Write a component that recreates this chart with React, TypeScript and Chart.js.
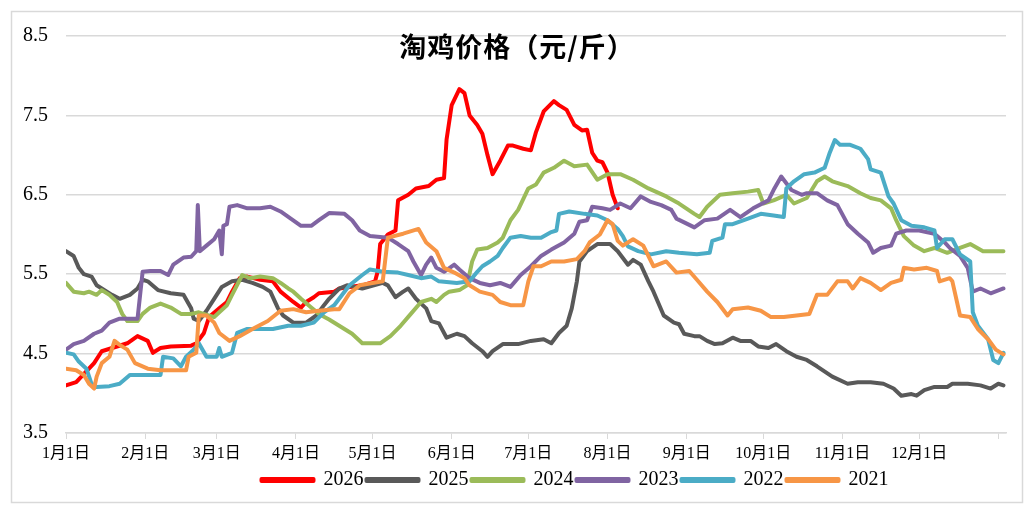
import { useEffect, useRef } from "react";
import { Chart, registerables } from "chart.js";

Chart.register(...registerables);

// x = day of year (0 = 1月1日)
const monthDays = [0, 31, 59, 90, 120, 151, 181, 212, 243, 273, 304, 334, 365];
const monthLabels = ["1月1日", "2月1日", "3月1日", "4月1日", "5月1日", "6月1日", "7月1日", "8月1日", "9月1日", "10月1日", "11月1日", "12月1日", ""];
const yTicks = [3.5, 4.5, 5.5, 6.5, 7.5, 8.5];

const years = ["2026", "2025", "2024", "2023", "2022", "2021"];
const colors = ["#ff0000", "#595959", "#9bbb59", "#8064a2", "#4bacc6", "#f79646"];

// [day, price]
const s2026 = [
  [0, 4.1], [4, 4.14], [11, 4.38], [14, 4.53], [24, 4.63], [28, 4.72], [32, 4.66], [34, 4.51], [37, 4.57],
  [41, 4.59], [49, 4.6], [51, 4.63], [54, 4.76], [56, 4.96], [60, 5.07], [63, 5.15], [65, 5.28], [68, 5.45],
  [71, 5.47], [76, 5.43], [81, 5.41], [84, 5.28], [89, 5.15], [92, 5.08], [94, 5.15], [97, 5.21], [99, 5.26],
  [105, 5.28], [107, 5.32], [116, 5.36], [121, 5.41], [122, 5.53], [123, 5.88], [126, 6.0], [129, 6.05],
  [130, 6.43], [134, 6.5], [137, 6.58], [142, 6.61], [145, 6.69], [148, 6.71], [149, 7.2], [151, 7.63],
  [154, 7.83], [156, 7.78], [158, 7.5], [161, 7.38], [163, 7.27], [165, 7.0], [167, 6.76], [170, 6.93],
  [173, 7.12], [175, 7.12], [179, 7.08], [182, 7.06], [184, 7.29], [187, 7.55], [191, 7.68], [193, 7.63],
  [196, 7.57], [199, 7.38], [202, 7.31], [204, 7.32], [206, 7.03], [208, 6.93], [210, 6.91], [212, 6.78],
  [214, 6.5], [216, 6.33],
];

const s2025 = [
  [0, 5.79], [3, 5.73], [5, 5.58], [7, 5.5], [10, 5.47], [12, 5.36], [14, 5.32], [18, 5.24], [21, 5.19],
  [25, 5.24], [28, 5.32], [30, 5.43], [32, 5.41], [36, 5.3], [41, 5.26], [46, 5.24], [49, 5.07], [50, 4.94],
  [52, 4.91], [55, 5.04], [58, 5.19], [61, 5.34], [65, 5.41], [69, 5.43], [73, 5.39], [77, 5.34], [80, 5.28],
  [83, 5.07], [85, 4.98], [89, 4.89], [94, 4.89], [98, 4.98], [101, 5.11], [103, 5.19], [107, 5.32],
  [110, 5.36], [116, 5.32], [124, 5.39], [126, 5.36], [129, 5.21], [132, 5.28], [134, 5.32], [137, 5.19],
  [141, 5.07], [143, 4.91], [146, 4.88], [149, 4.7], [153, 4.75], [156, 4.72], [159, 4.63], [163, 4.53],
  [165, 4.46], [167, 4.53], [171, 4.62], [177, 4.62], [182, 4.66], [187, 4.68], [190, 4.63], [193, 4.76],
  [196, 4.85], [198, 5.07], [200, 5.41], [201, 5.66], [204, 5.79], [208, 5.88], [213, 5.88], [216, 5.79],
  [220, 5.62], [222, 5.68], [225, 5.62], [228, 5.41], [230, 5.28], [234, 4.98], [238, 4.89], [240, 4.87],
  [242, 4.75], [246, 4.72], [248, 4.72], [251, 4.66], [254, 4.62], [257, 4.63], [261, 4.7], [264, 4.66],
  [268, 4.66], [271, 4.59], [275, 4.57], [278, 4.62], [282, 4.53], [286, 4.46], [290, 4.42], [294, 4.34],
  [300, 4.21], [306, 4.12], [310, 4.14], [315, 4.14], [320, 4.12], [324, 4.06], [327, 3.97], [331, 3.99],
  [333, 3.97], [336, 4.04], [340, 4.08], [345, 4.08], [347, 4.12], [353, 4.12], [358, 4.1], [362, 4.06],
  [365, 4.12], [367, 4.1],
];

const s2024 = [
  [0, 5.39], [3, 5.28], [7, 5.26], [9, 5.28], [12, 5.24], [14, 5.3], [17, 5.24], [20, 5.15], [22, 5.0],
  [24, 4.91], [28, 4.91], [30, 5.0], [33, 5.08], [37, 5.13], [41, 5.08], [45, 5.0], [49, 5.0], [52, 5.02],
  [58, 4.96], [60, 5.02], [63, 5.11], [65, 5.24], [69, 5.49], [72, 5.45], [76, 5.47], [81, 5.45], [84, 5.39],
  [87, 5.32], [89, 5.28], [92, 5.19], [96, 5.08], [99, 5.0], [103, 4.93], [109, 4.81], [112, 4.75],
  [116, 4.63], [123, 4.63], [127, 4.72], [131, 4.85], [135, 5.0], [139, 5.15], [143, 5.19], [145, 5.15],
  [148, 5.24], [150, 5.28], [154, 5.3], [157, 5.36], [159, 5.66], [161, 5.81], [165, 5.83], [169, 5.9],
  [171, 5.96], [174, 6.18], [177, 6.31], [181, 6.58], [184, 6.63], [187, 6.78], [191, 6.84], [195, 6.93],
  [199, 6.86], [204, 6.88], [208, 6.69], [212, 6.76], [217, 6.76], [222, 6.69], [228, 6.58], [235, 6.48],
  [240, 6.39], [246, 6.26], [248, 6.22], [251, 6.35], [256, 6.5], [261, 6.52], [267, 6.54], [271, 6.56],
  [273, 6.39], [277, 6.43], [282, 6.5], [285, 6.39], [290, 6.46], [294, 6.67], [297, 6.73], [300, 6.67],
  [306, 6.61], [311, 6.52], [315, 6.46], [319, 6.43], [323, 6.33], [325, 6.18], [328, 5.98], [332, 5.86],
  [336, 5.79], [340, 5.83], [345, 5.77], [350, 5.83], [354, 5.88], [359, 5.79], [367, 5.79],
];

const s2023 = [
  [0, 4.55], [3, 4.62], [7, 4.66], [11, 4.75], [14, 4.79], [17, 4.89], [21, 4.94], [28, 4.94], [30, 5.53],
  [33, 5.54], [37, 5.54], [40, 5.49], [42, 5.62], [46, 5.71], [49, 5.72], [51, 5.79], [51.6, 6.37],
  [52.4, 5.79], [55, 5.86], [58, 5.94], [60, 6.05], [61, 5.75], [61.6, 6.11], [63, 6.13], [64, 6.35],
  [67, 6.37], [71, 6.33], [76, 6.33], [80, 6.35], [84, 6.29], [88, 6.2], [92, 6.11], [96, 6.11], [99, 6.18],
  [103, 6.27], [109, 6.26], [112, 6.18], [115, 6.05], [119, 5.98], [126, 5.96], [130, 5.88], [134, 5.79],
  [136, 5.66], [139, 5.49], [141, 5.62], [143, 5.71], [145, 5.58], [148, 5.53], [152, 5.62], [154, 5.56],
  [158, 5.45], [162, 5.39], [166, 5.36], [170, 5.39], [174, 5.34], [178, 5.49], [182, 5.6], [186, 5.73],
  [190, 5.81], [195, 5.9], [199, 6.01], [201, 6.16], [204, 6.18], [206, 6.35], [210, 6.33], [213, 6.31],
  [217, 6.39], [221, 6.33], [225, 6.48], [229, 6.41], [233, 6.37], [237, 6.31], [239, 6.2], [246, 6.09],
  [250, 6.18], [255, 6.2], [260, 6.31], [264, 6.22], [269, 6.33], [275, 6.43], [277, 6.56], [280, 6.73],
  [284, 6.56], [288, 6.5], [290, 6.52], [294, 6.52], [298, 6.43], [302, 6.37], [306, 6.13], [310, 6.01],
  [314, 5.9], [316, 5.77], [319, 5.83], [323, 5.86], [325, 6.01], [329, 6.05], [334, 6.05], [340, 6.01],
  [344, 5.9], [346, 5.83], [350, 5.73], [353, 5.58], [355, 5.28], [358, 5.32], [362, 5.26], [367, 5.32],
];

const s2022 = [
  [0, 4.51], [3, 4.49], [5, 4.4], [8, 4.31], [10, 4.12], [12, 4.08], [17, 4.09], [21, 4.12], [25, 4.23],
  [30, 4.23], [37, 4.23], [38, 4.46], [42, 4.44], [45, 4.34], [47, 4.46], [50, 4.55], [52, 4.63], [55, 4.46],
  [59, 4.46], [60, 4.57], [61, 4.46], [65, 4.51], [67, 4.76], [71, 4.81], [76, 4.81], [81, 4.81], [87, 4.85],
  [92, 4.85], [97, 4.89], [101, 5.02], [105, 5.11], [110, 5.32], [111, 5.36], [116, 5.49], [119, 5.56],
  [124, 5.53], [130, 5.52], [134, 5.49], [139, 5.45], [143, 5.47], [146, 5.41], [153, 5.39], [158, 5.41],
  [161, 5.53], [163, 5.6], [166, 5.66], [169, 5.73], [171, 5.83], [174, 5.96], [178, 5.98], [182, 5.96],
  [186, 5.96], [190, 6.03], [192, 6.05], [193, 6.26], [197, 6.29], [203, 6.26], [208, 6.24], [212, 6.18],
  [216, 6.07], [218, 5.98], [220, 5.85], [224, 5.79], [229, 5.75], [235, 5.79], [240, 5.77], [247, 5.75],
  [252, 5.77], [253, 5.92], [257, 5.96], [258, 6.13], [261, 6.13], [267, 6.2], [272, 6.26], [277, 6.24],
  [281, 6.22], [282, 6.58], [285, 6.67], [289, 6.76], [293, 6.78], [297, 6.84], [299, 7.03], [301, 7.19],
  [303, 7.13], [307, 7.13], [311, 7.08], [314, 6.95], [315, 6.82], [319, 6.78], [322, 6.48], [324, 6.39],
  [327, 6.18], [331, 6.11], [336, 6.09], [340, 6.05], [341, 5.83], [344, 5.94], [347, 5.94], [350, 5.75],
  [354, 5.66], [355, 5.02], [357, 4.85], [361, 4.68], [363, 4.42], [365, 4.38], [367, 4.51],
];

const s2021 = [
  [0, 4.31], [4, 4.29], [7, 4.23], [9, 4.12], [11, 4.06], [12, 4.21], [14, 4.38], [17, 4.46], [19, 4.66],
  [21, 4.61], [24, 4.55], [27, 4.38], [32, 4.31], [37, 4.29], [42, 4.29], [47, 4.29], [48, 4.46], [51, 4.51],
  [52, 4.98], [55, 4.98], [58, 4.89], [60, 4.76], [64, 4.66], [68, 4.72], [73, 4.81], [79, 4.91], [84, 5.04],
  [89, 5.06], [94, 5.02], [99, 5.04], [105, 5.06], [107, 5.06], [111, 5.26], [115, 5.36], [120, 5.39],
  [124, 5.41], [126, 5.96], [132, 6.01], [138, 6.07], [141, 5.9], [145, 5.79], [148, 5.58], [152, 5.52],
  [156, 5.45], [158, 5.36], [162, 5.28], [167, 5.24], [170, 5.15], [174, 5.11], [179, 5.11], [181, 5.41],
  [183, 5.6], [186, 5.6], [190, 5.66], [195, 5.66], [200, 5.69], [203, 5.79], [205, 5.9], [209, 6.0],
  [212, 6.18], [214, 6.13], [216, 5.92], [218, 5.86], [222, 5.94], [226, 5.86], [230, 5.6], [235, 5.66],
  [239, 5.52], [244, 5.54], [247, 5.43], [251, 5.28], [255, 5.15], [259, 4.98], [261, 5.06], [267, 5.08],
  [272, 5.04], [276, 4.96], [281, 4.96], [286, 4.98], [291, 5.0], [294, 5.24], [298, 5.24], [302, 5.41],
  [306, 5.41], [308, 5.32], [311, 5.45], [315, 5.39], [319, 5.3], [323, 5.39], [327, 5.43], [328, 5.58],
  [332, 5.56], [337, 5.58], [341, 5.54], [342, 5.41], [346, 5.45], [347, 5.41], [350, 4.98], [354, 4.96],
  [357, 4.81], [361, 4.68], [364, 4.55], [367, 4.49],
];

const seriesData = [s2026, s2025, s2024, s2023, s2022, s2021];

const serif = '"Times New Roman", "Liberation Serif", "Noto Sans CJK SC", serif';

// white page, light frame and the title drawn inside the plot
const framePlugin = {
  id: "frame",
  beforeDraw(chart: Chart) {
    const { ctx } = chart;
    ctx.save();
    ctx.fillStyle = "#ffffff";
    ctx.fillRect(0, 0, chart.width, chart.height);
    ctx.strokeStyle = "#d9d9d9";
    ctx.lineWidth = 1.5;
    ctx.strokeRect(11.5, 11.5, 1011, 491);
    ctx.restore();
  },
  afterDraw(chart: Chart) {
    const { ctx } = chart;
    ctx.save();
    ctx.font = 'bold 27px "Noto Sans CJK SC", sans-serif';
    (ctx as any).letterSpacing = "1px";
    ctx.fillStyle = "#000000";
    ctx.textAlign = "center";
    ctx.textBaseline = "middle";
    ctx.fillText("淘鸡价格（元/斤）", 517, 47);
    ctx.restore();
  },
  afterLayout(chart: Chart) {
    // legend sits right of centre, like the original
    const lg: any = (chart as any).legend;
    if (lg) {
      lg.left += 72;
      lg.right += 72;
    }
  },
};

export default function App() {
  const chartRef = useRef<HTMLCanvasElement>(null);
  const chartInstance = useRef<Chart | null>(null);

  useEffect(() => {
    document.body.style.margin = "0";
    if (!chartRef.current) return;
    if (chartInstance.current) chartInstance.current.destroy();

    const datasets = years.map((year, i) => ({
      label: year,
      data: seriesData[i].map(([d, v]) => ({ x: d, y: v })),
      borderColor: colors[i],
      backgroundColor: colors[i],
      borderWidth: 4,
      borderCapStyle: "round" as const,
      borderJoinStyle: "round" as const,
      pointRadius: 0,
      tension: 0,
      // later series in the legend are painted on top (lower order = on top)
      order: years.length - 1 - i,
    }));

    chartInstance.current = new Chart(chartRef.current, {
      type: "line",
      data: { datasets },
      options: {
        responsive: false,
        animation: false,
        layout: { padding: { left: 0, right: 28, top: 36, bottom: 10 } },
        plugins: {
          title: { display: false },
          tooltip: { enabled: false },
          legend: {
            position: "bottom",
            labels: {
              boxWidth: 52,
              boxHeight: 2,
              padding: 3,
              color: "#000000",
              font: { size: 20, family: serif },
              sort: (a: any, b: any) => a.datasetIndex - b.datasetIndex,
            },
          },
        },
        scales: {
          x: {
            type: "linear",
            min: 0,
            max: 368,
            afterBuildTicks: (scale: any) => {
              scale.ticks = monthDays.map((v) => ({ value: v }));
            },
            afterFit: (scale: any) => {
              scale.height = 34;
            },
            ticks: {
              autoSkip: false,
              maxRotation: 0,
              padding: 5,
              color: "#000000",
              font: { size: 16, family: serif },
              callback: (_v: any, i: number) => monthLabels[i],
            },
            grid: {
              drawOnChartArea: false,
              drawTicks: true,
              tickLength: 6,
              color: "#d9d9d9",
            },
            border: { color: "#d9d9d9", width: 1.5 },
          },
          y: {
            min: 3.5,
            max: 8.5,
            afterBuildTicks: (scale: any) => {
              scale.ticks = yTicks.map((v) => ({ value: v }));
            },
            afterFit: (scale: any) => {
              scale.width = 66;
            },
            ticks: {
              padding: 18,
              color: "#000000",
              font: { size: 20, family: serif },
              callback: (v: any) => Number(v).toFixed(1),
            },
            grid: { color: "#d9d9d9", drawTicks: false, lineWidth: 1.5 },
            border: { display: false },
          },
        },
      },
      plugins: [framePlugin],
    });

    return () => {
      if (chartInstance.current) {
        chartInstance.current.destroy();
        chartInstance.current = null;
      }
    };
  }, []);

  return <canvas ref={chartRef} width={1034} height={510} style={{ display: "block" }} />;
}
